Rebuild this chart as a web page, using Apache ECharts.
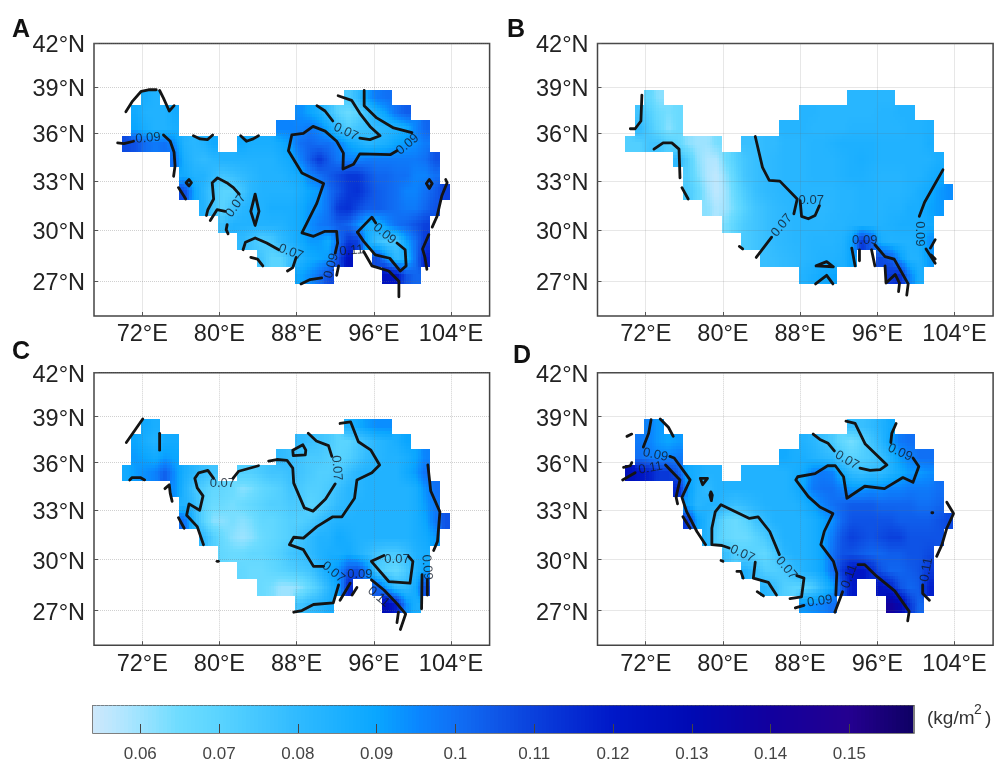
<!DOCTYPE html>
<html><head><meta charset="utf-8">
<style>html,body{margin:0;padding:0;background:#fff}#c{width:994px;height:763px}</style>
<script src="https://cdn.jsdelivr.net/npm/echarts@6/dist/echarts.min.js"></script>
</head><body><div id="c"></div>
<script>
// tick labels
const lonTicks = [72, 80, 88, 96, 104];
const latTicks = [27, 30, 33, 36, 39, 42];
const barTicks = [0.06, 0.07, 0.08, 0.09, 0.1, 0.11, 0.12, 0.13, 0.14, 0.15];
// 1 degree cells: west edge of column 0, north edge of row 0
const lonStart = 69.86, latStart = 38.85;
const rowSpans = [[[2,3],[23,27]],[[1,5],[18,29]],[[1,5],[16,31]],[[0,9],[12,31]],[[5,32]],[[6,32]],[[6,33]],[[8,32]],[[10,31]],[[12,31]],[[14,23],[26,31]],[[18,21],[27,30]]];
// column water vapour values x 1000 (kg/m2), row by row
const valuesA = [
[86,84,74,80,92,98,100],
[88,84,84,84,88,94,90,86,78,70,66,70,78,86,92,100,104],
[90,86,84,84,86,96,96,96,98,95,88,78,72,76,78,80,82,84,88,96,102],
[108,106,100,98,100,94,84,82,84,88,88,86,86,86,88,92,100,102,100,100,96,90,86,82,84,86,90,92,94,98],
[100,86,82,80,82,84,84,84,84,84,84,86,88,96,104,112,104,98,96,96,98,98,98,98,98,98,100,106],
[88,84,84,80,76,78,80,82,84,84,84,86,88,96,100,104,108,112,112,106,102,102,100,100,96,96,100],
[108,90,82,76,70,70,76,82,84,84,84,84,86,90,92,100,106,112,114,108,104,102,100,96,96,100,104,110],
[84,76,70,76,82,84,84,86,86,86,88,92,94,100,112,114,108,104,104,102,100,98,98,102,106],
[78,84,84,84,84,84,84,86,88,94,98,100,104,102,94,86,86,94,100,102,106,110],
[80,76,72,74,80,84,88,92,92,88,100,112,110,88,78,74,76,90,100,112],
[76,70,70,78,84,88,90,92,108,124,108,92,80,84,100,118],
[90,94,100,108,124,122,106,102]];
const valuesB = [
[68,62,82,82,82,82,82],
[76,72,66,64,66,83,83,82,82,82,82,82,82,83,83,84,84],
[80,74,68,62,66,83,83,83,82,82,82,82,83,83,83,83,83,83,84,84,85],
[72,72,76,76,72,68,62,60,60,64,78,78,80,80,82,82,82,83,83,84,85,85,85,85,84,84,84,84,84,86],
[80,72,62,58,58,66,72,76,78,80,81,82,82,82,83,83,83,84,85,86,85,84,84,84,84,84,84,86],
[72,64,58,56,62,70,76,78,80,81,82,82,82,83,83,83,84,85,85,84,83,83,83,84,84,86,88],
[74,68,60,56,60,68,74,78,80,81,82,82,82,82,82,82,83,83,84,84,83,83,83,84,86,88,92,94],
[62,58,60,66,72,76,78,80,81,82,82,82,81,82,83,83,84,84,83,84,84,86,86,90,92],
[64,70,74,76,78,80,81,82,82,82,82,83,83,84,84,84,84,85,86,86,86,88],
[74,76,78,80,81,82,82,83,83,83,84,90,112,104,86,84,84,84,86,94],
[78,79,80,81,82,83,84,84,85,90,108,104,92,84,84,92],
[84,86,88,90,112,116,96,86]];
const valuesC = [
[88,86,84,88,92,94,94],
[90,86,84,88,88,80,78,76,74,70,70,74,78,82,84,86,90],
[92,90,88,92,90,80,78,76,74,74,72,70,72,76,80,82,84,84,86,90,96],
[88,92,94,96,104,94,86,82,78,76,72,72,74,76,76,78,76,74,72,72,74,78,82,84,84,84,84,88,92,100],
[94,84,76,72,68,68,66,62,64,68,70,72,76,74,72,72,74,78,82,82,84,84,84,84,84,86,94,100],
[84,80,70,66,66,64,66,68,70,72,72,74,74,70,72,76,80,82,84,84,84,84,84,84,86,92,98],
[100,82,70,62,62,64,62,64,68,68,70,72,72,74,78,82,84,84,84,84,84,84,84,84,86,90,98,106],
[80,72,66,62,60,62,66,68,70,72,76,80,84,84,88,86,84,84,84,84,84,84,86,88,92],
[68,66,66,68,68,70,72,76,78,80,84,86,86,88,84,80,76,74,74,78,84,86],
[68,66,66,68,70,72,74,76,82,88,94,106,108,96,74,70,68,74,84,90],
[66,64,60,60,62,68,74,82,90,116,104,90,80,80,88,108],
[76,80,82,86,128,118,94,86]];
const valuesD = [
[96,92,78,78,80,84,88],
[98,96,92,90,92,84,82,78,74,68,64,70,76,82,90,98,100],
[100,98,96,96,98,88,86,86,84,82,80,74,70,72,74,78,84,92,96,100,100],
[126,122,118,112,112,104,88,86,84,84,84,84,84,84,84,86,88,96,98,96,86,80,78,80,80,84,88,92,92,94],
[116,92,84,80,84,84,84,84,84,84,84,84,86,90,98,100,100,96,92,92,94,94,96,96,98,98,98,100],
[90,82,84,84,80,78,80,82,84,84,84,84,86,90,96,100,102,104,104,104,102,102,102,102,100,100,102],
[112,90,84,74,68,66,70,76,80,84,84,84,84,86,90,94,102,106,106,106,106,106,104,104,104,104,106,108],
[84,72,68,66,66,70,74,80,84,84,84,86,90,98,106,110,108,106,108,110,110,106,106,106,106],
[78,72,72,70,68,74,82,84,84,86,90,100,106,106,104,102,102,104,104,106,106,108],
[84,78,72,72,74,80,84,86,90,100,112,122,122,116,106,102,102,104,106,112],
[82,78,72,70,70,74,82,90,106,120,124,118,106,102,104,118],
[92,94,96,100,140,132,112,102]];
// contour polylines as [lon, lat]
const contoursA = [
[[70.3,37.4],[71,38.1],[71.9,38.75],[72.65,38.85],[73.45,38.85]],
[[73.8,38.8],[74.2,38.3],[74.8,37.45],[75.3,37.8]],
[[69.45,35.4],[70.1,35.35],[71.1,35.5]],
[[74.2,35.9],[74.9,35.5],[75.3,34.8],[75.4,33.95],[75.25,33.3]],
[[75.75,32.6],[76.3,32.1],[76.5,31.9]],
[[76.55,32.9],[76.85,33.1],[77.1,32.9],[76.85,32.7],[76.55,32.9]],
[[77.3,35.85],[78,35.65],[78.75,35.6],[79.3,35.9]],
[[82.2,35.85],[82.8,35.5],[83.5,35.65],[84.05,35.85]],
[[78.65,30.9],[78.8,31.25],[79.4,31.9],[79.25,32.9],[79.8,33.2],[80.75,32.9],[81.45,32.6],[82.05,32.2]],
[[79.05,30.6],[79.75,31.25],[80.6,31.15]],
[[83.7,32.2],[84.1,31.15],[83.7,30.3],[83.25,31.15],[83.7,32.2]],
[[80.8,30.35],[80.7,30.05],[80.9,29.8]],
[[82.45,28.85],[82.7,29.3],[83.7,29.55],[84.9,29.25],[86.15,28.85]],
[[83.25,28.4],[83.95,28.3],[84.5,27.9]],
[[87.05,27.6],[87.6,27.8],[87.95,28.4]],
[[90.1,37.8],[90.95,37.45],[91.75,36.8]],
[[94.55,35.7],[95.6,35.6],[96.65,35.85],[95.6,36.45],[94.55,37.3],[93.7,38.15],[92.3,38.45]],
[[95,38.8],[95,37.8],[96.3,37],[98.05,36.35],[99.95,36.05]],
[[98.4,34.9],[97.7,34.65],[94.55,34.7],[93.9,34.05],[92.8,33.75],[92.85,34.75],[92.15,35.5],[90.95,36.15],[89.7,36.45],[88.7,36],[87.5,35.9],[87.15,34.9],[88.55,33.5],[90.8,32.85],[90.1,31.65],[88.55,29.85],[89.75,29.65],[90.95,29.95],[92.15,29.95],[92.25,29.25],[92,28.65]],
[[88.45,26.85],[89.4,27.1],[90.6,27.2]],
[[92.15,27.35],[92.35,27.9]],
[[94.95,28.75],[95.5,28.2],[95.8,27.9],[97.55,27.6],[98.6,27],[98.6,26.1]],
[[94.3,29.9],[95.8,30.8],[96.2,30.45]],
[[98.4,29.25],[99.25,28.85],[99.35,27.9],[98.75,27.6],[97.65,28.35],[96.15,28.55],[94.95,29.35],[94.3,29.9]],
[[101.7,29.75],[101.05,28.9],[101.3,28.4],[101.5,27.7]],
[[102.05,30.2],[102.55,30.85],[103.05,32.1],[103.6,32.9],[103.45,33.1]],
[[101.45,32.85],[101.75,33.1],[102.05,32.85],[101.75,32.55],[101.45,32.85]]];
const contoursB = [
[[71.6,38.5],[71.5,36.8],[70.9,36.3],[70.4,36.3]],
[[72.85,35],[73.8,35.4],[74.7,35.4],[75.45,35],[75.55,33.2]],
[[75.75,32.6],[76.4,31.9]],
[[83.35,35.8],[84.1,33.85],[84.8,33.05],[85.9,33],[87.7,31.9],[87.35,31]],
[[88,31.8],[88.15,30.85],[88.85,30.7],[89.55,30.9],[90,31.5]],
[[83.45,28.4],[85.05,29.6]],
[[81.7,29.05],[82.05,28.9]],
[[89.65,27.9],[90.75,28.15],[91.45,27.85],[89.65,27.9]],
[[89.6,26.85],[90.75,27.35],[91.4,26.85]],
[[93.35,28.95],[93.7,27.9]],
[[94.15,28.2],[94.15,28.85]],
[[95.75,29.15],[96.8,28.45],[97.75,28.3],[99.2,26.85],[99.05,26.2]],
[[95.4,28.85],[95.75,27.9]],
[[96.8,27.9],[96.9,26.9],[97.85,27.4],[98.3,26.9],[98.2,26.4]],
[[100.35,30.85],[100.9,31.7],[102.8,33.7]],
[[102,29.45],[101.5,28.95]],
[[101.05,28.9],[102,28.05]],
[[101.55,28.55],[102,28.3]]];
const contoursC = [
[[70.35,37.3],[71.4,38.25],[72.05,38.85]],
[[73.8,37.9],[73.8,36.8]],
[[70.7,34.9],[70.95,35.05],[71.8,35.05],[72.25,34.9]],
[[74.35,34.35],[74.8,34.6],[74.9,34.05],[75.1,33.55]],
[[75.75,32.55],[76.35,31.9]],
[[79.4,35],[78.8,35.5],[77.85,35.35],[77.45,35],[77.7,34.4],[78.3,33.9],[77.95,33],[76.85,33.4],[76.6,32.7],[77.7,32],[78.35,30.9]],
[[81.4,35],[82,35.45],[84.05,35.8]],
[[85.1,36.1],[85.95,36.2],[87,36.15],[87.6,35.65],[87.7,34.7],[88.8,33.15],[89.7,32.95],[91,33.7],[92,34.65]],
[[89.2,37.9],[90.05,37.4],[91.3,37.1],[91.65,36.4]],
[[87.6,36.8],[88.65,37.15],[88.95,36.8],[88.9,36.5],[87.65,36.45],[87.6,36.8]],
[[92.5,38.55],[93.6,38.65],[94.4,37.35],[95.7,36.8],[96.6,35.85],[95.8,35.35],[94.25,34.9],[94,33.75],[92.7,32.6],[91.75,32.6],[90.1,32],[88.7,31.3],[87.7,31.35],[87.25,30.9],[88.7,30.6],[89.75,29.6],[90.8,29.6]],
[[92.35,28.5],[91.8,27.45],[89.75,27.35],[88.55,27],[87.7,26.9]],
[[92.5,27.6],[93.55,28.6]],
[[93.75,27.9],[94.25,28.35]],
[[95.75,28.8],[97.05,28.2],[98.4,27.4],[99.3,26.8],[98.75,25.9]],
[[98.55,26.9],[98.4,26.3]],
[[97.05,30.25],[95.75,29.9],[97.55,28.7],[99.75,28.6],[100.05,29.9],[99.6,30.2]],
[[101.6,35.85],[101.9,34.2],[102.85,32.9],[102.6,31.1],[102.2,30.55]],
[[101,29.1],[100.95,27.1]],
[[101.55,28.8],[101.55,27.9]],
[[79.75,29.9],[79.9,29.9]]];
const contoursD = [
[[72.55,38.8],[72.3,37.9],[71.75,37]],
[[73.5,38.85],[74.35,38.3],[74.85,37.7]],
[[70.05,37.7],[70.55,37.85]],
[[69.7,35.7],[70.4,35.8],[70.55,36]],
[[69.6,34.9],[70.9,35.35]],
[[74.5,36.4],[74.95,36.3],[76.6,34.9],[75.75,33.8],[76.25,32.9],[77.3,31.7],[78.2,30.9]],
[[74.05,35.85],[75.55,34.9],[75.15,33.85]],
[[75.15,33.8],[75.3,33.4]],
[[75.85,32.6],[76.6,31.9]],
[[77.65,35],[78.4,35],[77.9,34.6],[77.65,35]],
[[78.75,34.15],[78.9,33.95],[78.8,33.6],[78.65,33.95],[78.75,34.15]],
[[80.65,30.7],[79.9,30.85],[78.85,30.9],[78.85,31.9],[79.2,32.9],[79.8,33.35],[82.75,32.5],[83.65,32.6],[84.85,31.7],[85.85,30.3]],
[[83.35,29.85],[83.15,28.9],[84.7,28.65],[85.55,27.9]],
[[87.65,29.05],[88.4,28.9],[88.15,27.8],[86.95,27.7]],
[[81.45,29.3],[81.85,29.3],[82.1,28.9]],
[[83.55,28.1],[84.2,27.85]],
[[79.8,29.95],[80,29.9]],
[[87.5,27.15],[88.4,27.3]],
[[91.6,26.9],[92.4,28.1]],
[[91.7,27.9],[91.8,29.2],[91.45,29.9],[90.15,30.9],[90.5,31.7],[91.4,32.8],[90.05,33.2],[88.85,33.85],[87.55,34.9],[87.75,35.1],[89.55,35.3],[90.85,35.8],[91.65,35.8],[92.5,35.1],[92.85,33.75],[94.7,34.5],[96.75,34.35],[98.65,35.05],[99.7,34.75],[100.3,35.75],[99.7,36.3]],
[[97.95,38.55],[97.5,37.9],[97.4,37.3]],
[[89.35,37.85],[90.05,37.5],[90.9,37.25],[91.55,36.75]],
[[94.2,35.65],[95.25,35.5],[96.3,35.55],[97,35.85],[94.75,37.2],[93.7,38.55],[92.75,38.7]],
[[94,29.7],[94.7,29.7],[95.95,29],[97.8,28.15],[99.3,26.95],[99.15,26.4]],
[[102.15,30.2],[102.7,30.9],[103.2,31.9],[103.9,32.8],[103.2,33.5]],
[[100.7,28.5],[100.7,28],[101.4,27.6]],
[[101.65,32.85],[101.75,32.85]]];
// contour labels: lon, lat, text, rotation
const labelsA = [[72.6,35.7,'0.09',5],[81.7,31.5,'0.07',55],[93.1,36.1,'0.07',-25],[99.5,35.3,'0.09',40],[87.4,28.7,'0.07',-20],[97.1,29.8,'0.09',-40],[93.7,28.8,'0.11',5],[91.6,27.9,'0.09',75]];
const labelsB = [[89.15,31.8,'0.07',0],[86.1,30.3,'0.07',50],[100.35,29.8,'0.09',-90],[94.7,29.4,'0.09',0]];
const labelsC = [[80.3,34.7,'0.07',0],[92.15,35.65,'0.07',-85],[91.8,29.25,'0.07',-40],[94.55,29.1,'0.09',0],[96.5,27.8,'0.11',-40],[98.4,30,'0.07',0],[101.5,29.55,'0.09',-85]];
const labelsD = [[73,36.5,'0.09',-12],[72.5,35.65,'0.11',10],[98.35,36.65,'0.09',-25],[92.85,36.15,'0.07',-30],[82,30.35,'0.07',-25],[86.55,29.5,'0.07',-50],[90.05,27.55,'0.09',8],[93.1,29,'0.11',70],[101.1,29.4,'0.11',80]];
// colour bar stops: value, colour
const colorValues = [0.054,0.058,0.065,0.07,0.08,0.09,0.095,0.1,0.105,0.11,0.12,0.13,0.14,0.15,0.1582];
const colorHex = ['#cfe8fb','#b0e6ff','#6edcff','#5ad4ff','#30baff','#0aa6ff','#0a88ff','#1070f5','#0f58e8','#0a40dc','#0018c8','#000ab4','#12009e','#240090','#0e0064'];

const FONT = '"Liberation Sans", Arial, sans-serif';
// equal-area cylindrical latitude scale
const proj = lat => Math.sin(lat * Math.PI / 180) * 180 / Math.PI;
const unproj = y => Math.asin(y * Math.PI / 180) * 180 / Math.PI;
function colorAt(v) {
  if (v <= colorValues[0]) return colorHex[0];
  for (let i = 1; i < colorValues.length; i++) {
    if (v <= colorValues[i]) {
      const t = (v - colorValues[i - 1]) / (colorValues[i] - colorValues[i - 1]);
      return echarts.color.lerp(t, [colorHex[i - 1], colorHex[i]]);
    }
  }
  return colorHex[colorHex.length - 1];
}
const grids = [
  {left: 94, top: 43.5, width: 395.6, height: 272.5},
  {left: 597.5, top: 43.5, width: 395.6, height: 272.5},
  {left: 94, top: 372.7, width: 395.6, height: 272.5},
  {left: 597.5, top: 372.7, width: 395.6, height: 272.5}
].map(g => Object.assign(g, {show: true, borderColor: '#444', borderWidth: 1.5, backgroundColor: '#fff', containLabel: false}));
grids.push({left: 93, top: 705.7, width: 821, height: 27.6, show: true, borderColor: '#555', borderWidth: 1.5});
const xAxes = [], yAxes = [], series = [];
const tickStyle = {show: true, inside: true, length: 4, lineStyle: {color: '#555', width: 1}};
const gridStyle = {show: true, lineStyle: {color: 'rgba(110,110,110,0.32)', type: 'dotted', width: 1}};
const panels = [[valuesA, contoursA, labelsA], [valuesB, contoursB, labelsB], [valuesC, contoursC, labelsC], [valuesD, contoursD, labelsD]];
const NX = 4, NY = 5;
panels.forEach(([vals, conts, labs], p) => {
  xAxes.push({gridIndex: p, type: 'value', min: 67, max: 108, z: 3,
    axisLine: {show: false}, axisTick: Object.assign({}, tickStyle, {customValues: lonTicks}), splitLine: gridStyle,
    axisLabel: {customValues: lonTicks, margin: 7, fontSize: 23.5, color: '#222', fontFamily: FONT, formatter: v => v + '°E', hideOverlap: false}});
  yAxes.push({gridIndex: p, type: 'value', min: proj(25), max: proj(42), z: 3,
    axisLine: {show: false}, axisTick: Object.assign({}, tickStyle, {customValues: latTicks.map(proj)}), splitLine: gridStyle,
    axisLabel: {customValues: latTicks.map(proj), margin: 9, fontSize: 23.5, color: '#222', fontFamily: FONT, formatter: v => '{t|' + Math.round(unproj(v)) + '°N}', hideOverlap: false,
      rich: {t: {fontSize: 23.5, color: '#222', fontFamily: FONT, padding: [5, 0, 0, 0]}}}});
  const lookup = {}, cells = [];
  rowSpans.forEach((spans, r) => {
    let i = 0;
    spans.forEach(([a, b]) => { for (let k = a; k <= b; k++) { const v = vals[r][i++]; lookup[r + '_' + k] = v; cells.push([lonStart + k, latStart - r, v, r, k]); } });
  });
  series.push({type: 'custom', xAxisIndex: p, yAxisIndex: p, z: 1, silent: true, clip: true, data: cells, encode: {x: 0, y: 1},
    renderItem: (params, api) => {
      const c = cells[params.dataIndex], lon = c[0], lat = c[1], v0 = c[2], r = c[3], k = c[4];
      const children = [];
      const val = (rr, kk) => { const v = lookup[rr + '_' + kk]; return v === undefined ? null : v; };
      for (let iy = 0; iy < NY; iy++) for (let ix = 0; ix < NX; ix++) {
        const u = (ix + 0.5) / NX - 0.5, w = (iy + 0.5) / NY - 0.5;
        const kn = k + Math.sign(u), rn = r + Math.sign(w), au = Math.abs(u), aw = Math.abs(w);
        const vk = val(r, kn), vr = val(rn, k), vd = val(rn, kn);
        const a = vk === null ? v0 : vk, b = vr === null ? v0 : vr, d = vd === null ? (a + b) / 2 : vd;
        const v = (v0 * (1 - au) + a * au) * (1 - aw) + (b * (1 - au) + d * au) * aw;
        const p0 = api.coord([lon + ix / NX, proj(lat - iy / NY)]);
        const p1 = api.coord([lon + (ix + 1) / NX, proj(lat - (iy + 1) / NY)]);
        const x0 = Math.round(p0[0]), y0 = Math.round(p0[1]), x1 = Math.round(p1[0]), y1 = Math.round(p1[1]);
        children.push({type: 'rect', shape: {x: x0, y: y0, width: x1 - x0, height: y1 - y0}, style: {fill: colorAt(v / 1000)}});
      }
      return {type: 'group', children};
    }});
  conts.forEach(line => series.push({type: 'line', xAxisIndex: p, yAxisIndex: p, z: 5, silent: true, showSymbol: false, symbol: 'none', animation: false,
    data: line.map(q => [q[0], proj(q[1])]), lineStyle: {color: '#141414', width: 2.8, join: 'round', cap: 'round'}}));
  series.push({type: 'scatter', xAxisIndex: p, yAxisIndex: p, z: 6, silent: true, symbolSize: 1, itemStyle: {color: 'transparent'},
    data: labs.map(l => ({value: [l[0], proj(l[1])], label: {show: true, position: 'inside', formatter: l[2], rotate: l[3], fontSize: 13, color: '#111a28', fontFamily: FONT}}))});
});
// colour bar
const barLevels = [];
for (let i = 0; i < 208; i++) barLevels.push(0.054 + i * 0.0005);
xAxes.push({gridIndex: 4, type: 'value', min: 0.054, max: 0.1582, z: 3, axisLine: {show: false},
  axisTick: {show: true, inside: true, length: 9, customValues: barTicks, lineStyle: {color: '#444', width: 1}}, splitLine: {show: false},
  axisLabel: {customValues: barTicks, margin: 13, fontSize: 17, color: '#444', fontFamily: FONT, hideOverlap: false, formatter: v => String(Math.round(v * 100) / 100)}});
yAxes.push({gridIndex: 4, type: 'value', min: 0, max: 1, show: false});
series.push({type: 'custom', xAxisIndex: 4, yAxisIndex: 4, z: 1, silent: true, data: barLevels.map(v => [v]), encode: {x: 0},
  renderItem: (params, api) => {
    const v = api.value(0), p0 = api.coord([v, 1]), p1 = api.coord([Math.min(v + 0.0005, 0.1582), 0]);
    return {type: 'rect', shape: {x: Math.floor(p0[0]), y: p0[1], width: Math.ceil(p1[0]) - Math.floor(p0[0]), height: p1[1] - p0[1]}, style: {fill: colorAt(v + 0.00025)}};
  }});
const letter = (t, left, top) => ({text: t, left, top, padding: 0, textStyle: {fontSize: 25, fontWeight: 'bold', color: '#111', fontFamily: FONT}});
const unit = (t, left, top, size) => ({text: t, left, top, padding: 0, textStyle: {fontSize: size, fontWeight: 'normal', color: '#333', fontFamily: FONT}});
const chart = echarts.init(document.getElementById('c'), null, {renderer: 'canvas'});
chart.setOption({animation: false, backgroundColor: '#fff', grid: grids, xAxis: xAxes, yAxis: yAxes, series,
  title: [letter('A', 12, 18), letter('B', 507, 18), letter('C', 12, 340), letter('D', 513, 344),
    unit('(kg/m', 927, 709, 19), unit('2', 974, 703, 14), unit(')', 985, 709, 19)]});
</script></body></html>
